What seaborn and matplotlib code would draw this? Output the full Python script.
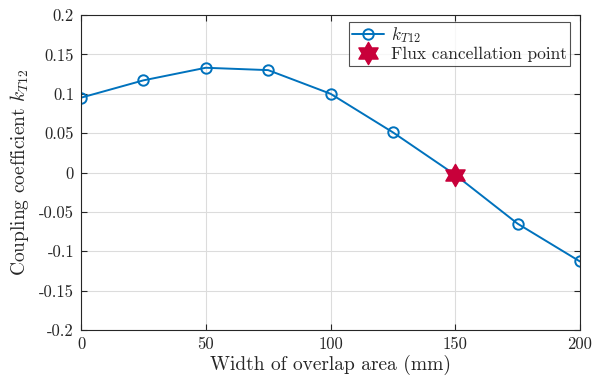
import numpy as np
import pandas as pd
import matplotlib
matplotlib.use("Agg")
import matplotlib.pyplot as plt
from matplotlib.path import Path
import seaborn as sns

widths = [0, 25, 50, 75, 100, 125, 150, 175, 200]
k_t12 = [0.095, 0.117, 0.133, 0.130, 0.100, 0.051, -0.003, -0.065, -0.113]
cancel_x = [150]
cancel_y = [-0.003]
yticks = [0.2, 0.15, 0.1, 0.05, 0, -0.05, -0.1, -0.15, -0.2]
ytick_labels = ["0.2", "0.15", "0.1", "0.05", "0", "-0.05", "-0.1", "-0.15", "-0.2"]
xticks = [0, 50, 100, 150, 200]
xtick_labels = ["0", "50", "100", "150", "200"]

sns.set_theme(style="ticks")
plt.rcParams["font.family"] = ["cmr10", "DejaVu Serif"]
plt.rcParams["mathtext.fontset"] = "cm"
plt.rcParams["axes.unicode_minus"] = False

df = pd.DataFrame({"w": widths, "k": k_t12})

fig = plt.figure(figsize=(5.95, 3.84), dpi=100)
ax = fig.add_axes([81 / 595, 1 - 330 / 384, (580 - 81) / 595, (330 - 15) / 384])

blue = "#0072BD"
sns.lineplot(data=df, x="w", y="k", ax=ax, color=blue, linewidth=1.4,
             marker="o", markersize=7.5, markerfacecolor="none",
             markeredgecolor=blue, markeredgewidth=1.4, label=r"$k_{T12}$")

# hexagram marker
ang = np.pi / 2 + np.arange(12) * np.pi / 6
rad = np.where(np.arange(12) % 2 == 0, 1.0, 1 / np.sqrt(3))
verts = np.column_stack([rad * np.cos(ang), rad * np.sin(ang)])
verts = np.vstack([verts, verts[:1]])
hexagram = Path(verts, closed=True)

ax.plot(cancel_x, cancel_y, linestyle="none", marker=hexagram, markersize=16,
        color="#C8003A", markeredgecolor="#C8003A", label="Flux cancellation point")

ax.set_xlim(0, 200)
ax.set_ylim(-0.2, 0.2)
ax.set_xticks(xticks)
ax.set_xticklabels(xtick_labels)
ax.set_yticks(yticks)
ax.set_yticklabels(ytick_labels)
ax.tick_params(direction="in", length=4, width=0.8, labelsize=12, colors="#262626",
               top=True, right=True, pad=5)
ax.grid(True, color="#DCDCDC", linewidth=0.8)
ax.set_axisbelow(True)
for s in ax.spines.values():
    s.set_visible(True)
    s.set_color("#262626")
    s.set_linewidth(0.8)

ax.set_xlabel("Width of overlap area (mm)", fontsize=14, color="#262626", labelpad=2)
ax.set_ylabel(r"Coupling coefficient $k_{T12}$", fontsize=14, color="#262626", labelpad=6)

leg = ax.legend(loc="upper right", bbox_to_anchor=(0.98, 0.978), fontsize=12.5,
                frameon=True, fancybox=False, edgecolor="#262626",
                handlelength=1.8, handletextpad=0.4, borderpad=0.2, labelspacing=0.1,
                borderaxespad=0.0)
leg.get_frame().set_linewidth(0.8)

fig.savefig("out.png", dpi=100)
